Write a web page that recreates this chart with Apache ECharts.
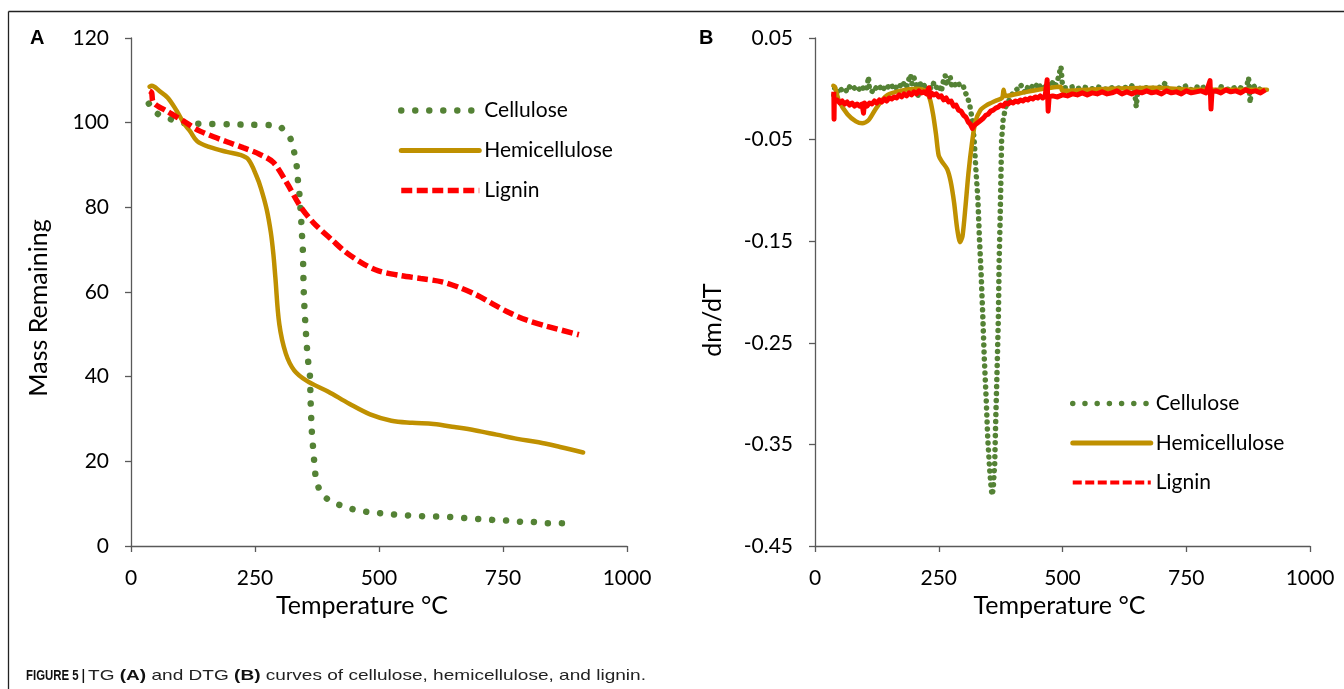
<!DOCTYPE html>
<html>
<head>
<meta charset="utf-8">
<script src="https://cdn.jsdelivr.net/npm/echarts@6/dist/echarts.min.js"></script>
<style>
html,body{margin:0;padding:0;background:#fff;}
#chart{width:1344px;height:689px;}
</style>
</head>
<body>
<div id="chart"></div>
<script>
// ---------- DATA ----------
const seriesNames = ['Cellulose', 'Hemicellulose', 'Lignin'];
const xTicks = [0, 250, 500, 750, 1000];
const yTicksA = [0, 20, 40, 60, 80, 100, 120];
const yTicksB = [-0.45, -0.35, -0.25, -0.15, -0.05, 0.05];

// Panel A : TG (mass remaining vs temperature)
const tgCelluloseT = [36, 51, 76, 102, 127, 160, 200, 240, 282, 300, 306, 314, 322, 329, 334, 336, 339, 341, 343, 344, 346, 348.6, 353, 357, 360.5, 362, 364, 365.6, 368, 370, 373, 381, 399, 423, 447, 474, 499, 525, 550, 576, 601, 629, 654, 679, 705, 731, 757, 784, 809, 837, 863, 888];
const tgCelluloseM = [104.5, 102.3, 101, 100, 99.8, 99.7, 99.6, 99.5, 99.4, 99.1, 98.5, 97.6, 96.1, 93, 89.8, 87, 83.9, 80.7, 77.6, 74.4, 71.6, 59.1, 49.8, 43.8, 40.7, 34.6, 28.4, 25.3, 22.1, 19, 16, 13.1, 10.8, 9.6, 8.7, 8.1, 7.8, 7.5, 7.3, 7.1, 7.0, 6.95, 6.75, 6.55, 6.35, 6.15, 6.0, 5.75, 5.7, 5.4, 5.4, 5.3];
const tgHemiT = [37.4, 42, 57, 74, 91, 108, 119, 133.5, 159, 193, 220, 236.5, 253, 262, 273.6, 282, 287, 291, 299, 312, 329, 354.6, 397, 440, 482, 525, 567, 610, 652, 695, 737, 779, 822, 865, 911.6];
const tgHemiM = [108.5, 108.7, 107.5, 105.9, 103, 99.6, 98, 95.6, 94.2, 93.1, 92.4, 91.3, 87.4, 84.5, 79.5, 74.0, 69.0, 63.5, 52.4, 45.5, 41.5, 39.0, 36.5, 33.6, 31.1, 29.6, 29.1, 28.8, 28.1, 27.3, 26.3, 25.3, 24.5, 23.4, 22.1];
const tgLigninT = [37.4, 41.6, 45, 74, 105.4, 139, 193, 226, 260, 287, 314, 341, 367.5, 408, 431, 465, 499, 542, 584, 627, 661, 695, 729, 763, 797, 839, 903];
const tgLigninM = [107.5, 107.1, 104.8, 102.6, 100.4, 98, 95.5, 94.1, 92.5, 90.6, 85.8, 80.3, 76.4, 72, 69.6, 66.9, 65.0, 63.9, 63.2, 62.4, 61.1, 59.4, 57.2, 55.1, 53.4, 51.9, 49.9];

// Panel B : DTG (dm/dT vs temperature)
const dtgCelluloseT = [38, 40, 45, 50, 55, 60, 65, 70, 75, 80, 85, 90, 95, 100, 105, 108, 110, 115, 120, 125, 130, 135, 140, 145, 150, 155, 160, 165, 170, 175, 180, 185, 190, 193, 196, 200, 205, 208, 212, 215, 220, 225, 230, 235, 240, 245, 250, 255, 260, 263, 266, 270, 273, 276, 280, 285, 290, 295, 300, 304, 308, 312.6, 318.6, 322, 325, 329, 332, 335.6, 339, 342, 346, 349, 352.6, 356, 357.8, 360, 363, 365, 368, 370.5, 372, 374, 375.6, 377, 380, 385, 393.5, 402, 410, 415, 420, 425, 430, 435, 440, 445, 450, 455, 460, 465, 470, 475, 480, 485, 490, 494, 497, 500, 505, 510, 520, 530, 540, 550, 560, 570, 580, 590, 600, 610, 620, 630, 640, 645, 649, 652, 660, 670, 680, 690, 700, 708, 712, 720, 730, 740, 750, 760, 770, 780, 790, 800, 810, 820, 830, 840, 850, 860, 870, 876, 879, 882, 890, 900, 910];
const dtgCelluloseV = [-0.006, 0.002, -0.003, 0.001, -0.002, 0.000, -0.003, 0.002, -0.001, 0.001, -0.002, 0.000, 0.003, -0.002, 0.001, 0.012, 0.000, -0.003, 0.002, 0.000, 0.003, -0.002, 0.001, 0.004, 0.000, 0.003, -0.001, 0.002, 0.005, 0.001, 0.006, 0.002, 0.010, 0.014, 0.005, 0.011, 0.003, -0.008, 0.006, 0.002, 0.004, -0.002, 0.003, 0.000, 0.006, 0.001, 0.004, -0.003, 0.009, 0.013, 0.003, 0.010, 0.012, 0.004, 0.007, 0.002, 0.005, 0.001, 0.002, -0.004, -0.008, -0.016, -0.033, -0.054, -0.079, -0.108, -0.145, -0.182, -0.224, -0.265, -0.307, -0.344, -0.373, -0.394, -0.400, -0.394, -0.369, -0.328, -0.274, -0.224, -0.170, -0.128, -0.087, -0.050, -0.031, -0.018, -0.010, -0.002, 0.000, 0.004, 0.001, -0.004, 0.002, 0.000, 0.003, 0.001, 0.006, 0.002, 0.004, 0.001, 0.005, 0.002, 0.006, 0.002, 0.008, 0.016, 0.022, 0.003, 0.001, 0.001, 0.002, 0.000, 0.002, 0.001, 0.000, 0.002, 0.001, -0.001, 0.001, 0.000, 0.002, 0.001, 0.003, 0.001, -0.018, -0.002, 0.002, 0.001, 0.000, 0.002, 0.001, 0.006, 0.000, -0.002, 0.001, 0.000, 0.003, -0.001, 0.002, 0.000, 0.003, 0.000, -0.002, 0.002, 0.000, -0.001, 0.002, 0.001, -0.002, 0.011, -0.014, 0.001, 0.003, -0.001, 0.001];
const dtgHemiT = [37, 40, 48.6, 65.6, 82.6, 95.4, 108, 121, 134, 146.5, 172, 206, 223, 232, 238.5, 244.5, 250, 257, 267, 274, 281, 287, 293, 298, 304, 310, 317, 323.7, 334, 347, 364, 378, 381, 385, 427.6, 496, 500, 598, 683, 768, 853, 913];
const dtgHemiV = [0.003, 0.002, -0.012, -0.025, -0.032, -0.034, -0.031, -0.021, -0.012, -0.006, -0.002, 0.000, -0.002, -0.010, -0.025, -0.045, -0.066, -0.072, -0.079, -0.091, -0.112, -0.137, -0.151, -0.145, -0.116, -0.083, -0.054, -0.033, -0.021, -0.016, -0.012, -0.009, -0.001, -0.007, -0.003, 0.002, -0.002, 0.000, 0.001, -0.001, -0.001, -0.001];
const dtgLigninT = [38, 38.5, 39, 45, 50, 55, 60, 65, 70, 75, 80, 85, 90, 95, 98, 100, 105, 110, 115, 120, 125, 130, 135, 140, 145, 150, 155, 160, 165, 170, 175, 180, 185, 190, 195, 200, 205, 210, 215, 220, 225, 230, 232, 235, 240, 245, 250, 255, 260, 265, 270, 275, 280, 285, 290, 295, 300, 305, 310, 314, 318, 322, 326, 330, 335, 340, 345, 350, 355, 360, 365, 370, 375, 380, 385, 390, 395, 400, 405, 410, 415, 420, 425, 430, 435, 440, 445, 450, 455, 460, 465, 469, 471, 473, 480, 490, 500, 510, 520, 530, 540, 550, 560, 570, 580, 590, 600, 610, 620, 630, 640, 650, 660, 670, 680, 690, 700, 710, 720, 730, 740, 750, 760, 770, 780, 790, 798, 800, 802, 810, 820, 830, 840, 850, 860, 870, 880, 890, 900, 910];
const dtgLigninV = [-0.003, -0.030, -0.012, -0.011, -0.014, -0.012, -0.015, -0.013, -0.016, -0.014, -0.017, -0.015, -0.017, -0.015, -0.024, -0.014, -0.017, -0.014, -0.015, -0.012, -0.014, -0.011, -0.013, -0.010, -0.012, -0.009, -0.010, -0.008, -0.009, -0.006, -0.008, -0.005, -0.007, -0.004, -0.006, -0.003, -0.005, -0.002, -0.004, -0.003, -0.005, 0.001, -0.008, -0.004, -0.006, -0.005, -0.008, -0.007, -0.011, -0.009, -0.013, -0.012, -0.017, -0.016, -0.021, -0.022, -0.026, -0.028, -0.033, -0.035, -0.039, -0.036, -0.037, -0.033, -0.031, -0.029, -0.026, -0.025, -0.022, -0.021, -0.019, -0.018, -0.016, -0.017, -0.014, -0.015, -0.013, -0.014, -0.012, -0.013, -0.011, -0.012, -0.010, -0.011, -0.009, -0.010, -0.008, -0.009, -0.007, -0.009, -0.007, 0.009, -0.022, -0.008, -0.007, -0.008, -0.006, -0.007, -0.005, -0.006, -0.004, -0.006, -0.004, -0.005, -0.003, -0.005, -0.004, -0.002, -0.005, -0.003, -0.005, -0.003, -0.004, -0.002, -0.004, -0.003, -0.005, -0.002, -0.004, -0.003, -0.005, -0.002, -0.004, -0.003, -0.002, -0.004, 0.008, -0.020, -0.003, -0.002, -0.004, -0.001, -0.003, -0.002, -0.004, -0.001, -0.003, -0.002, -0.004, -0.001];

// ---------- STYLE ----------
const GREEN = '#548235', GOLD = '#BF9000', RED = '#FF0000';
const FONT = 'Lato';
const AXIS_COLOR = '#595959';

function pairs(xs, ys) { return xs.map((x, i) => [x, ys[i]]); }

const chart = echarts.init(document.getElementById('chart'), null, { renderer: 'canvas' });

function xAxisCfg(gridIndex, namePad) {
  return {
    type: 'value', gridIndex: gridIndex, min: 0, max: 1000, interval: 250,
    name: 'Temperature °C', nameLocation: 'middle', nameGap: 47,
    nameTextStyle: { fontFamily: FONT, fontSize: 25, color: '#000', padding: namePad },
    axisLine: { show: true, onZero: false, lineStyle: { color: AXIS_COLOR, width: 1.3 } },
    axisTick: { show: true, inside: false, length: 6, lineStyle: { color: AXIS_COLOR, width: 1.3 },
                customValues: xTicks },
    axisLabel: { fontFamily: FONT, fontSize: 21, color: '#000', margin: 22, customValues: xTicks,
                 formatter: v => String(v) },
    splitLine: { show: false }
  };
}

const legendTextStyle = { fontFamily: FONT, fontSize: 21, color: '#000' };

const option = {
  animation: false,
  backgroundColor: '#fff',
  grid: [
    { left: 131, right: 717, top: 38, bottom: 143, containLabel: false },
    { left: 815, right: 34, top: 38, bottom: 143, containLabel: false }
  ],
  xAxis: [ xAxisCfg(0, [0, 34, 0, 0]), xAxisCfg(1, [0, 6, 0, 0]) ],
  yAxis: [
    {
      type: 'value', gridIndex: 0, min: 0, max: 120, interval: 20,
      name: 'Mass Remaining', nameLocation: 'middle', nameGap: 80, nameRotate: 90,
      nameTextStyle: { fontFamily: FONT, fontSize: 25, color: '#000', padding: [0, 32, 0, 0] },
      axisLine: { show: true, onZero: false, lineStyle: { color: AXIS_COLOR, width: 1.3 } },
      axisTick: { show: true, length: 6, lineStyle: { color: AXIS_COLOR, width: 1.3 }, customValues: yTicksA },
      axisLabel: { fontFamily: FONT, fontSize: 21, color: '#000', margin: 22, customValues: yTicksA },
      splitLine: { show: false }
    },
    {
      type: 'value', gridIndex: 1, min: -0.45, max: 0.05,
      name: 'dm/dT', nameLocation: 'middle', nameGap: 90, nameRotate: 90,
      nameTextStyle: { fontFamily: FONT, fontSize: 25, color: '#000', padding: [0, 56, 0, 0] },
      axisLine: { show: true, onZero: false, lineStyle: { color: AXIS_COLOR, width: 1.3 } },
      axisTick: { show: true, length: 6, lineStyle: { color: AXIS_COLOR, width: 1.3 }, customValues: yTicksB },
      axisLabel: { fontFamily: FONT, fontSize: 21, color: '#000', margin: 22, customValues: yTicksB,
                   formatter: v => Number(v).toFixed(2) },
      splitLine: { show: false }
    }
  ],
  legend: [
    {
      orient: 'vertical', left: 393, top: 95, itemWidth: 78, itemHeight: 14, itemGap: 19,
      textStyle: legendTextStyle, itemStyle: { opacity: 0 },
      data: [
        { name: seriesNames[0], lineStyle: { width: 6.5, type: [0.01, 14], cap: 'round' } },
        { name: seriesNames[1], lineStyle: { width: 5, type: 'solid', cap: 'round' } },
        { name: seriesNames[2], lineStyle: { width: 5.5, type: [11, 4.5], cap: 'butt' } }
      ]
    },
    {
      orient: 'vertical', left: 1065, top: 388, itemWidth: 78, itemHeight: 14, itemGap: 18.5,
      textStyle: legendTextStyle, itemStyle: { opacity: 0 },
      data: [
        { name: seriesNames[0] + ' ', lineStyle: { width: 5.5, type: [0.01, 12.2], cap: 'round' } },
        { name: seriesNames[1] + ' ', lineStyle: { width: 5, type: 'solid', cap: 'round' } },
        { name: seriesNames[2] + ' ', lineStyle: { width: 4, type: [9, 3.5], cap: 'butt' } }
      ]
    }
  ],
  series: [
    { name: seriesNames[0], type: 'line', xAxisIndex: 0, yAxisIndex: 0, symbol: 'none',
      smooth: 0.3, color: GREEN,
      lineStyle: { color: GREEN, width: 6.5, type: [0.01, 14], cap: 'round' },
      data: pairs(tgCelluloseT, tgCelluloseM) },
    { name: seriesNames[1], type: 'line', xAxisIndex: 0, yAxisIndex: 0, symbol: 'none',
      smooth: 0.35, color: GOLD,
      lineStyle: { color: GOLD, width: 4.5, cap: 'round', join: 'round' },
      data: pairs(tgHemiT, tgHemiM) },
    { name: seriesNames[2], type: 'line', xAxisIndex: 0, yAxisIndex: 0, symbol: 'none',
      smooth: 0.3, color: RED,
      lineStyle: { color: RED, width: 5.5, type: [11, 4.5] },
      data: pairs(tgLigninT, tgLigninM) },

    { name: seriesNames[0] + ' ', type: 'line', xAxisIndex: 1, yAxisIndex: 1, symbol: 'none', color: GREEN,
      lineStyle: { color: GREEN, width: 5.5, type: [0.01, 7], cap: 'round', join: 'round' },
      data: pairs(dtgCelluloseT, dtgCelluloseV) },
    { name: seriesNames[1] + ' ', type: 'line', xAxisIndex: 1, yAxisIndex: 1, symbol: 'none', color: GOLD,
      smooth: 0.25,
      lineStyle: { color: GOLD, width: 4.5, cap: 'round', join: 'round' },
      data: pairs(dtgHemiT, dtgHemiV) },
    { name: seriesNames[2] + ' ', type: 'line', xAxisIndex: 1, yAxisIndex: 1, symbol: 'none', color: RED,
      lineStyle: { color: RED, width: 5, join: 'round', cap: 'butt' },
      data: pairs(dtgLigninT, dtgLigninV) }
  ],
  graphic: [
    { type: 'line', silent: true, shape: { x1: 8.5, y1: 11.5, x2: 1344, y2: 11.5 }, style: { stroke: '#222', lineWidth: 1.3 } },
    { type: 'line', silent: true, shape: { x1: 8.5, y1: 11.5, x2: 8.5, y2: 689 }, style: { stroke: '#222', lineWidth: 1.3 } },
    { type: 'text', silent: true, x: 30, y: 38, style: { text: 'A', font: 'bold 20px "Liberation Sans", Arial, sans-serif', fill: '#000', verticalAlign: 'middle' } },
    { type: 'text', silent: true, x: 699, y: 38, style: { text: 'B', font: 'bold 20px "Liberation Sans", Arial, sans-serif', fill: '#000', verticalAlign: 'middle' } },
    { type: 'text', silent: true, x: 26, y: 676, scaleX: 0.76,
      style: { text: 'FIGURE 5 |', font: 'bold 15px "Liberation Sans", Arial, sans-serif', fill: '#111', verticalAlign: 'middle' } },
    { type: 'text', silent: true, x: 88, y: 676, scaleX: 1.27,
      style: {
        text: 'TG {b|(A)} and DTG {b|(B)} curves of cellulose, hemicellulose, and lignin.',
        fontFamily: '"Liberation Sans", Arial, sans-serif', fontSize: 15, fill: '#222', verticalAlign: 'middle',
        rich: { b: { fontFamily: '"Liberation Sans", Arial, sans-serif', fontWeight: 'bold', fontSize: 15, fill: '#111' } }
      } }
  ]
};

chart.setOption(option);
</script>
</body>
</html>
